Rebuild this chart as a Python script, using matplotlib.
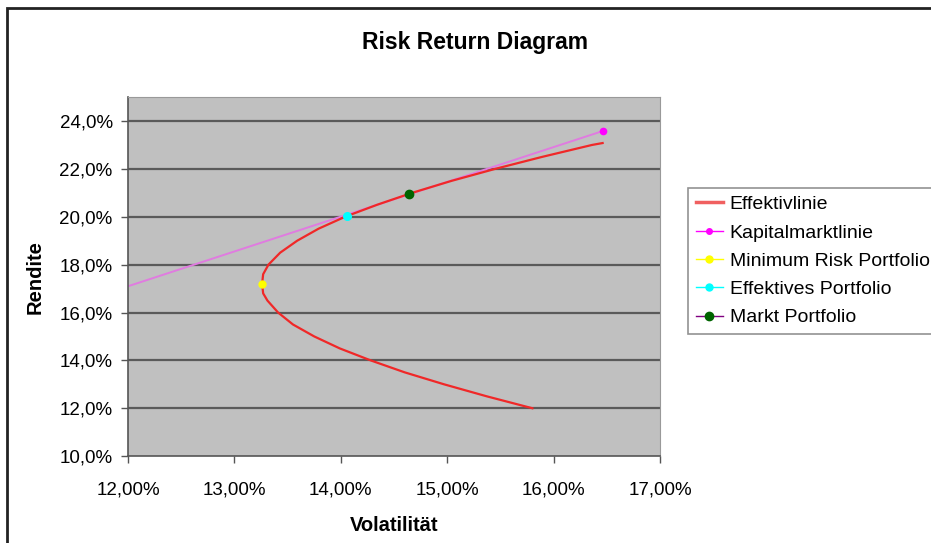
import matplotlib.pyplot as plt
from matplotlib.patches import Rectangle
from matplotlib.lines import Line2D
from matplotlib.ticker import FuncFormatter

plt.rcParams['font.family'] = ['Liberation Sans', 'DejaVu Sans']

# Effektivlinie (Volatilität in %, Rendite in %)
eff_vol = [15.80, 15.37, 14.97, 14.60, 14.28, 13.99, 13.75, 13.55, 13.41, 13.31, 13.27,
           13.26, 13.27, 13.32, 13.43, 13.59, 13.79, 14.04, 14.34, 14.67, 15.04,
           15.45, 15.89, 16.36, 16.46]
eff_ret = [12.0, 12.5, 13.0, 13.5, 14.0, 14.5, 15.0, 15.5, 16.0, 16.5, 16.8,
           17.2, 17.6, 18.0, 18.5, 19.0, 19.5, 20.0, 20.5, 21.0, 21.5,
           22.0, 22.5, 23.0, 23.08]

# Kapitalmarktlinie
cml_vol = [10.0, 16.46]
cml_ret = [14.19, 23.58]

# einzelne Portfolios
minrisk = (13.26, 17.2)
effektiv = (14.06, 20.03)
markt = (14.64, 20.95)

x_ticks = [12, 13, 14, 15, 16, 17]
y_ticks = [10, 12, 14, 16, 18, 20, 22, 24]

fig = plt.figure(figsize=(9.31, 5.43), dpi=100)
ax = fig.add_axes([0.1375, 0.160, 0.5715, 0.6612])
ax.set_facecolor('#C0C0C0')

for y in y_ticks[1:]:
    ax.axhline(y, color='#5a5a5a', lw=1.6, zorder=1)

ax.plot(cml_vol, cml_ret, color='#E07BE0', lw=1.4, zorder=2,
        marker='o', ms=4.5, mfc='#FF00FF', mec='#FF00FF')
ax.plot(eff_vol, eff_ret, color='#F02828', lw=1.6, zorder=3)
ax.plot(*minrisk, 'o', color='#FFFF00', ms=5, zorder=4)
ax.plot(*effektiv, 'o', color='#00FFFF', ms=5.5, zorder=4)
ax.plot(*markt, 'o', color='#006400', ms=6, zorder=4)

ax.set_xlim(12, 17)
ax.set_ylim(10, 25)
ax.set_xticks(x_ticks)
ax.set_yticks(y_ticks)
ax.xaxis.set_major_formatter(FuncFormatter(lambda v, p: f'{v:.2f}%'.replace('.', ',')))
ax.yaxis.set_major_formatter(FuncFormatter(lambda v, p: f'{v:.1f}%'.replace('.', ',')))
ax.tick_params(labelsize=13.5, length=5, width=1, color='#555555')
ax.tick_params(axis='x', pad=13)
ax.tick_params(axis='y', pad=6)

for side in ['top', 'right']:
    ax.spines[side].set_color('#999999')
for side in ['left', 'bottom']:
    ax.spines[side].set_color('#555555')
    ax.spines[side].set_linewidth(1.2)

ax.set_xlabel('Volatilität', fontsize=14.5, fontweight='bold', labelpad=13)
ax.set_ylabel('Rendite', fontsize=14.5, fontweight='bold', labelpad=11)
fig.text(0.5105, 0.921, 'Risk Return Diagram', fontsize=16.5, fontweight='bold',
         ha='center', va='center')

handles = [
    Line2D([], [], color='#F06060', lw=2.5),
    Line2D([], [], color='#FF00FF', lw=1, marker='o', ms=4),
    Line2D([], [], color='#FFFF00', lw=1, marker='o', ms=5),
    Line2D([], [], color='#00FFFF', lw=1, marker='o', ms=5),
    Line2D([], [], color='#800080', lw=1, marker='o', ms=6, mfc='#006400', mec='#006400'),
]
labels = ['Effektivlinie', 'Kapitalmarktlinie', 'Minimum Risk Portfolio',
          'Effektives Portfolio', 'Markt Portfolio']
leg = fig.legend(handles, labels, loc='upper left', bbox_to_anchor=(0.739, 0.654),
                 fontsize=14, frameon=True, fancybox=False, edgecolor='#777777',
                 handlelength=1.4, handletextpad=0.35, labelspacing=0.55,
                 borderpad=0.4, borderaxespad=0)
leg.get_frame().set_linewidth(1.2)

# Rahmen des Diagrammbereichs
fig.patches.append(Rectangle((7 / 931, -0.1), 1.2, 1.1 - 8 / 543,
                             transform=fig.transFigure, fill=False,
                             edgecolor='#222222', lw=2))

fig.savefig('out.png', dpi=100)
